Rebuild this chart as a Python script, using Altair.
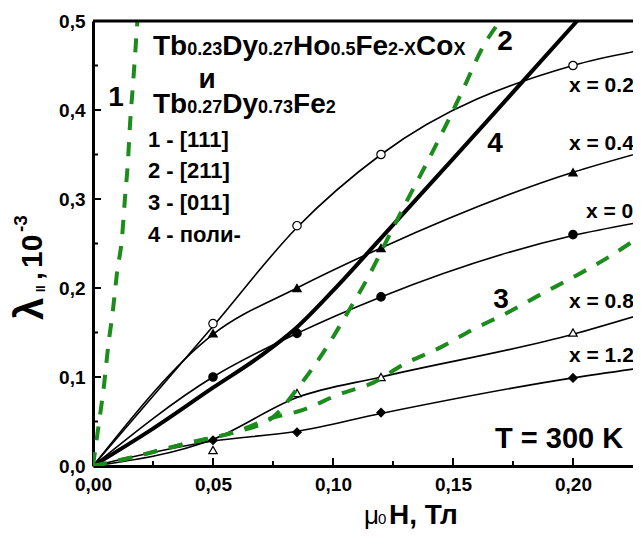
import altair as alt
import pandas as pd

# ---------------- data ----------------
x_tick_vals = [0.0, 0.05, 0.10, 0.15, 0.20]
y_tick_vals = [0.0, 0.1, 0.2, 0.3, 0.4, 0.5]
x_major_in = [0.05, 0.10, 0.15, 0.20]
x_minor_in = [0.025, 0.075, 0.125, 0.175]
y_major_in = [0.1, 0.2, 0.3, 0.4]
y_minor_in = [0.05, 0.15, 0.25, 0.35, 0.45]

# measured points (markers)
H_meas = [0.05, 0.085, 0.12, 0.20]
m_x02 = [0.16, 0.27, 0.35, 0.45]
m_x04 = [0.149, 0.20, 0.245, 0.33]
m_x0 = [0.10, 0.149, 0.19, 0.26]
m_x08 = [0.018, 0.082, 0.10, 0.15]
m_x12 = [0.029, 0.038, 0.06, 0.099]

# fitted solid curves
H_fit = [0.0, 0.05, 0.085, 0.12, 0.20, 0.228]
f_x02 = [0.0, 0.157, 0.268, 0.35, 0.45, 0.467]
f_x04 = [0.0, 0.148, 0.20, 0.245, 0.33, 0.352]
f_x0 = [0.0, 0.10, 0.149, 0.19, 0.259, 0.274]
f_x08 = [0.0, 0.03, 0.077, 0.10, 0.148, 0.17]
f_x12 = [0.0, 0.028, 0.039, 0.059, 0.099, 0.11]

# curve 4 (polycrystal, thick)
H_c4 = [0.0, 0.025, 0.05, 0.07, 0.085, 0.10, 0.12, 0.15, 0.173, 0.2017]
L_c4 = [0.0, 0.042, 0.088, 0.124, 0.156, 0.197, 0.256, 0.345, 0.414, 0.5]

# green dashed curves 1, 2, 3
H_c1 = [0.0, 0.0025, 0.0046, 0.0063, 0.0083, 0.0100, 0.0121, 0.0133, 0.0146, 0.0154, 0.0167, 0.0185]
L_c1 = [0.0, 0.049, 0.091, 0.134, 0.175, 0.217, 0.257, 0.30, 0.344, 0.383, 0.43, 0.5]
H_c2 = [0.0, 0.0167, 0.031, 0.045, 0.059, 0.0746, 0.086, 0.0975, 0.106, 0.1146, 0.1225, 0.131, 0.139, 0.1467, 0.154, 0.1625, 0.1696]
L_c2 = [0.0, 0.01, 0.02, 0.029, 0.038, 0.054, 0.09, 0.134, 0.172, 0.212, 0.254, 0.299, 0.34, 0.381, 0.422, 0.471, 0.5]
H_c3 = [0.0, 0.0167, 0.031, 0.045, 0.059, 0.0746, 0.0875, 0.102, 0.117, 0.13, 0.1446, 0.158, 0.1725, 0.186, 0.2, 0.215, 0.228]
L_c3 = [0.0, 0.01, 0.02, 0.029, 0.038, 0.054, 0.063, 0.08, 0.094, 0.115, 0.133, 0.153, 0.172, 0.192, 0.212, 0.235, 0.258]

# ---------------- layout helpers ----------------
FONT = "Liberation Sans"
GREEN = "#1c8c1c"
W, Hh = 540, 445
OX, OY = 93, 21  # page position of plot origin

xs = alt.Scale(domain=[0, W / 2400.0], nice=False, zero=False)
ys = alt.Scale(domain=[0, 0.5], nice=False, zero=False)

def long(series):
    rows = []
    for name, hx, ly in series:
        for a, b in zip(hx, ly):
            rows.append({"s": name, "H": a, "L": b})
    return pd.DataFrame(rows)

fit_df = long([("0.2", H_fit, f_x02), ("0.4", H_fit, f_x04), ("0", H_fit, f_x0),
               ("0.8", H_fit, f_x08), ("1.2", H_fit, f_x12)])
c4_df = long([("4", H_c4, L_c4)])
green_df = long([("1", H_c1, L_c1), ("2", H_c2, L_c2), ("3", H_c3, L_c3)])

xaxis = alt.Axis(values=x_tick_vals, labelExpr="replace(format(datum.value, '.2f'), '.', ',')",
                 ticks=False, grid=False, title=None, domainWidth=3, domainColor="black",
                 labelFont=FONT, labelFontSize=19, labelFontWeight="bold", labelColor="black",
                 labelPadding=9, labelFlush=False)
yaxis = alt.Axis(values=y_tick_vals, labelExpr="replace(format(datum.value, '.1f'), '.', ',')",
                 ticks=False, grid=False, title=None, domainWidth=3, domainColor="black",
                 labelFont=FONT, labelFontSize=19, labelFontWeight="bold", labelColor="black",
                 labelPadding=8, labelFlush=False)

fit_lines = alt.Chart(fit_df).mark_line(color="black", strokeWidth=1.6, interpolate="monotone", clip=True).encode(
    x=alt.X("H:Q", scale=xs, axis=xaxis),
    y=alt.Y("L:Q", scale=ys, axis=yaxis),
    detail="s:N",
)
c4_line = alt.Chart(c4_df).mark_line(color="black", strokeWidth=4, interpolate="monotone", clip=True).encode(
    x=alt.X("H:Q", scale=xs), y=alt.Y("L:Q", scale=ys))
green_lines = alt.Chart(green_df).mark_line(color=GREEN, strokeWidth=4, strokeDash=[14, 12],
                                            interpolate="monotone", clip=True).encode(
    x=alt.X("H:Q", scale=xs), y=alt.Y("L:Q", scale=ys), detail="s:N")

def markers(vals, shape, filled):
    df = pd.DataFrame({"H": H_meas, "L": vals})
    return alt.Chart(df).mark_point(shape=shape, size=70, filled=True,
                                    fill="black" if filled else "white",
                                    stroke="black", strokeWidth=1.2, opacity=1).encode(
        x=alt.X("H:Q", scale=xs), y=alt.Y("L:Q", scale=ys))

mk = [markers(m_x02, "circle", False), markers(m_x04, "triangle-up", True),
      markers(m_x0, "circle", True), markers(m_x08, "triangle-up", False),
      markers(m_x12, "diamond", True)]

def xticks(vals, length):
    return alt.Chart(pd.DataFrame({"v": vals})).mark_rule(color="black", strokeWidth=2).encode(
        x=alt.X("v:Q", scale=xs), y=alt.value(Hh), y2=alt.value(Hh - length))

def yticks(vals, length):
    return alt.Chart(pd.DataFrame({"v": vals})).mark_rule(color="black", strokeWidth=2).encode(
        y=alt.Y("v:Q", scale=ys), x=alt.value(0), x2=alt.value(length))

ticks = [xticks(x_major_in, 8), xticks(x_minor_in, 5), yticks(y_major_in, 8), yticks(y_minor_in, 5)]

top_border = alt.Chart(pd.DataFrame({"v": [0]})).mark_rule(color="black", strokeWidth=3).encode(
    x=alt.value(0), x2=alt.value(W), y=alt.value(0))

one = pd.DataFrame({"v": [0]})

def txt(s, px, py, size, weight="bold", align="left", angle=0, color="black"):
    kw = dict(text=s, align=align, baseline="alphabetic", font=FONT, fontSize=size,
              fontWeight=weight, color=color)
    if angle:
        kw["angle"] = angle
    return alt.Chart(one).mark_text(**kw).encode(x=alt.value(px - OX), y=alt.value(py - OY))

BOLD = {" ": 278, ",": 278, "-": 333, ".": 278, "=": 584, "[": 333, "]": 333, "C": 722, "D": 722,
        "F": 611, "H": 722, "K": 722, "T": 611, "X": 667, "b": 611, "e": 556, "o": 611, "x": 556, "y": 556}
for d in "0123456789":
    BOLD[d] = 556

def width(s, size):
    return sum(BOLD.get(c, 600) for c in s) * size / 1000.0

def formula(pieces, x0, base):
    out = []
    x = x0
    for s, big in pieces:
        size = 28 if big else 18
        out.append(txt(s, x, base, size))
        x += width(s, size)
    return out

texts = []
texts += formula([("Tb", 1), ("0.23", 0), ("Dy", 1), ("0.27", 0), ("Ho", 1), ("0.5", 0),
                  ("Fe", 1), ("2-X", 0), ("Co", 1), ("X", 0)], 153, 55)
texts.append(txt("и", 207, 88, 28, align="center"))
texts += formula([("Tb", 1), ("0.27", 0), ("Dy", 1), ("0.73", 0), ("Fe", 1), ("2", 0)], 153, 113)
for s, b in [("1 - [111]", 147), ("2 - [211]", 178), ("3 - [011]", 210), ("4 - поли-", 242)]:
    texts.append(txt(s, 148, b, 22))

# curve numbers
texts += [txt("1", 116, 106, 28, align="center"), txt("2", 505, 50, 28, align="center"),
          txt("4", 495, 152, 28, align="center"), txt("3", 501, 308, 28, align="center")]
# composition labels
texts += [txt("x = 0.2", 569, 92, 21), txt("x = 0.4", 569, 150, 21), txt("x = 0", 586, 218, 21),
          txt("x = 0.8", 569, 308, 21), txt("x = 1.2", 569, 362, 21)]
texts.append(txt("T = 300 K", 495, 448, 29))

# y title (rotated)
texts += [txt("λ", 43, 320, 40, angle=270), txt("II", 45, 292, 12, angle=270),
          txt(",", 42, 280, 28, angle=270), txt("10", 42, 268, 30, angle=270),
          txt("-3", 27, 232, 19, angle=270)]
# x title
texts += [txt("μ", 364, 524, 26, weight="normal"), txt("0", 378, 524, 15, weight="normal"),
          txt("H, Тл", 389, 524, 28)]

chart = alt.layer(fit_lines, *ticks, c4_line, *mk, green_lines, top_border, *texts).properties(
    width=W, height=Hh,
    autosize=alt.AutoSizeParams(type="none"),
    padding={"left": 85, "top": 13, "right": 0, "bottom": 66},
).configure_view(stroke=None).configure(background="white")

chart.save("out.html", embed_options={"renderer": "svg", "actions": False})
